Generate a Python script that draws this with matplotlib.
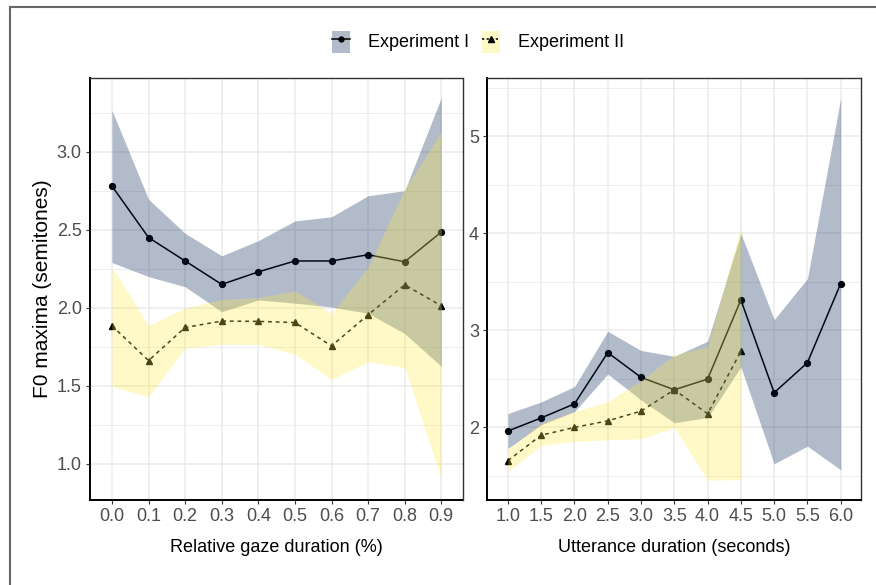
import matplotlib
matplotlib.use("Agg")
import matplotlib.pyplot as plt
from matplotlib.lines import Line2D
from matplotlib.patches import Patch

plt.rcParams['font.family'] = ['Liberation Sans', 'DejaVu Sans']

# --- 左パネル: 相対視線時間 ---
gaze = [0.0, 0.1, 0.2, 0.3, 0.4, 0.5, 0.6, 0.7, 0.8, 0.9]
g_exp1 = [2.78, 2.45, 2.30, 2.15, 2.23, 2.30, 2.30, 2.34, 2.295, 2.485]
g_exp1_lo = [2.29, 2.20, 2.135, 1.975, 2.05, 2.03, 2.005, 1.965, 1.835, 1.625]
g_exp1_hi = [3.265, 2.695, 2.477, 2.333, 2.43, 2.556, 2.583, 2.718, 2.75, 3.346]
g_exp2 = [1.885, 1.662, 1.874, 1.915, 1.913, 1.906, 1.756, 1.955, 2.147, 2.013]
g_exp2_lo = [1.496, 1.43, 1.742, 1.767, 1.765, 1.703, 1.541, 1.654, 1.618, 0.906]
g_exp2_hi = [2.259, 1.887, 1.998, 2.054, 2.065, 2.109, 1.964, 2.259, 2.76, 3.128]

# --- 右パネル: 発話時間 ---
utt = [1.0, 1.5, 2.0, 2.5, 3.0, 3.5, 4.0, 4.5, 5.0, 5.5, 6.0]
u_exp1 = [1.96, 2.095, 2.24, 2.768, 2.513, 2.385, 2.495, 3.311, 2.355, 2.664, 3.48]
u_exp1_lo = [1.78, 2.024, 2.16, 2.547, 2.28, 2.045, 2.1, 2.62, 1.622, 1.804, 1.56]
u_exp1_hi = [2.14, 2.26, 2.418, 2.988, 2.79, 2.73, 2.885, 3.996, 3.108, 3.531, 5.389]
utt2 = [1.0, 1.5, 2.0, 2.5, 3.0, 3.5, 4.0, 4.5]
u_exp2 = [1.655, 1.917, 1.997, 2.065, 2.165, 2.385, 2.138, 2.781]
u_exp2_lo = [1.545, 1.808, 1.853, 1.87, 1.88, 1.995, 1.455, 1.458]
u_exp2_hi = [1.77, 2.04, 2.16, 2.263, 2.48, 2.745, 2.83, 4.064]

labels = ["Experiment I", "Experiment II"]
blue = "#00204D"
yellow = "#FFEA46"

W, H = 876, 585
fig = plt.figure(figsize=(W / 100, H / 100), dpi=100)
ax1 = fig.add_axes([90 / W, 1 - 500 / H, 372.5 / W, 421.7 / H])
ax2 = fig.add_axes([487.3 / W, 1 - 500 / H, 373.7 / W, 421.7 / H])


def draw_panel(ax, x1, m1, lo1, hi1, x2, m2, lo2, hi2):
    ax.plot(x1, m1, '-o', color='black', lw=1.1, ms=4.2, zorder=2.5)
    ax.plot(x2, m2, '--^', color='black', lw=1.1, ms=5, dashes=(2.5, 2.5), zorder=2.5)
    ax.fill_between(x1, lo1, hi1, color=blue, alpha=0.3, lw=0, zorder=3)
    ax.fill_between(x2, lo2, hi2, color=yellow, alpha=0.3, lw=0, zorder=3)
    ax.grid(True, which='major', color='#ebebeb', lw=1.1, zorder=0)
    ax.grid(True, which='minor', axis='y', color='#ebebeb', lw=0.6, zorder=0)
    ax.set_axisbelow(True)
    for s in ['top', 'right']:
        ax.spines[s].set_color('#333333')
        ax.spines[s].set_linewidth(1.0)
    for s in ['left', 'bottom']:
        ax.spines[s].set_color('black')
        ax.spines[s].set_linewidth(1.4)
    ax.tick_params(which='major', length=3, width=0.8, color='#333333',
                   labelcolor='#4d4d4d', labelsize=13, pad=3)
    ax.tick_params(which='minor', length=0)


ax1.set_xticks(gaze)
ax1.set_xticklabels([f"{v:.1f}" for v in gaze])
ax1.set_yticks([1.0, 1.5, 2.0, 2.5, 3.0])
ax1.set_yticklabels(["1.0", "1.5", "2.0", "2.5", "3.0"])
ax1.set_yticks([1.25, 1.75, 2.25, 2.75, 3.25], minor=True)
ax1.set_xlim(-0.06, 0.958)
ax1.set_ylim(0.769, 3.47)
draw_panel(ax1, gaze, g_exp1, g_exp1_lo, g_exp1_hi, gaze, g_exp2, g_exp2_lo, g_exp2_hi)
ax1.set_ylabel("F0 maxima (semitones)", fontsize=15, labelpad=3)
ax1.set_xlabel("Relative gaze duration (%)", fontsize=13, labelpad=10)

ax2.set_xticks(utt)
ax2.set_xticklabels([f"{v:.1f}" for v in utt])
ax2.set_yticks([2, 3, 4, 5])
ax2.set_yticks([1.5, 2.5, 3.5, 4.5, 5.5], minor=True)
ax2.set_xlim(0.69, 6.305)
ax2.set_ylim(1.249, 5.595)
draw_panel(ax2, utt, u_exp1, u_exp1_lo, u_exp1_hi, utt2, u_exp2, u_exp2_lo, u_exp2_hi)
ax2.set_xlabel("Utterance duration (seconds)", fontsize=13, labelpad=10)

# 凡例
h1 = (Patch(facecolor=blue, alpha=0.3, lw=0),
      Line2D([], [], color='black', lw=1.1, marker='o', ms=3.5))
h2 = (Patch(facecolor=yellow, alpha=0.3, lw=0),
      Line2D([], [], color='black', lw=1.1, ls='--', dashes=(1.5, 1.5), marker='^', ms=4))
fig.legend([h1, h2], labels, loc='center', bbox_to_anchor=(0.546, 0.929),
           ncol=2, frameon=False, fontsize=13, handlelength=1.0, handleheight=1.5,
           handletextpad=1.0, columnspacing=0.7)

# 外枠
fig.add_artist(Line2D([9.5 / W, 9.5 / W], [0, 1 - 6.5 / H], transform=fig.transFigure,
                      color='#666666', lw=1.5))
fig.add_artist(Line2D([9.5 / W, 1], [1 - 6.5 / H, 1 - 6.5 / H], transform=fig.transFigure,
                      color='#666666', lw=1.5))

fig.savefig("out.png", dpi=100)
